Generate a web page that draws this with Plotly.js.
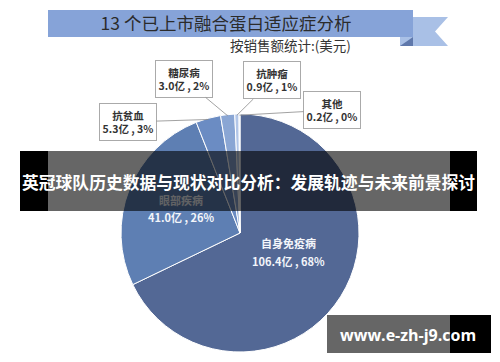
<!DOCTYPE html>
<html>
<head>
<meta charset="utf-8">
<script src="https://cdn.plot.ly/plotly-3.0.1.min.js"></script>
<style>html,body{margin:0;padding:0;background:#fff;}#chart{width:500px;height:362px;}</style>
</head>
<body>
<div id="chart"></div>
<script>
// ---- data ----
const categories = ['自身免疫病', '眼部疾病', '抗贫血', '糖尿病', '抗肿瘤', '其他'];
const salesYi = [106.4, 41.0, 5.3, 3.0, 0.9, 0.2];
const sliceColors = ['#536895', '#5e7fb3', '#6b8cc3', '#8aa6d4', '#b2c6e8', '#cfdcf0'];
const chartTitle = '13 个已上市融合蛋白适应症分析';
const subTitle = '按销售额统计:(美元)';
const bannerText = '英冠球队历史数据与现状对比分析：发展轨迹与未来前景探讨';
const watermarkText = 'www.e-zh-j9.com';

// ---- layout helpers ----
const W = 500, H = 362;
const px = x => x / W;
const py = y => 1 - y / H;
const CX = 240, CY = 233, R = 119;
const FONT = '"Noto Sans CJK SC", "Noto Sans", sans-serif';

const total = salesYi.reduce((a, b) => a + b, 0);
const pct = salesYi.map(v => Math.round(v / total * 100));
const valueText = i => salesYi[i].toFixed(1) + '亿 , ' + pct[i] + '%';

// mid angle point of slice i on the rim (clockwise from 12 o'clock)
function rimPoint(i, rf) {
  let cum = 0;
  for (let k = 0; k < i; k++) cum += salesYi[k];
  const a = (cum + salesYi[i] / 2) / total * 2 * Math.PI;
  return [CX + R * rf * Math.sin(a), CY - R * rf * Math.cos(a)];
}

const trace = {
  type: 'pie',
  labels: categories,
  values: salesYi,
  sort: false,
  direction: 'clockwise',
  rotation: 0,
  textinfo: 'none',
  hoverinfo: 'none',
  marker: { colors: sliceColors, line: { color: '#ffffff', width: 1 } },
  domain: { x: [px(CX - R), px(CX + R)], y: [py(CY + R), py(CY - R)] },
  showlegend: false
};

const annotations = [];
annotations.push({
  xref: 'paper', yref: 'paper', x: px(290.5), y: py(45), xanchor: 'center', yanchor: 'middle',
  text: subTitle, showarrow: false, font: { family: FONT, size: 13.5, color: '#333' }
});

// callout boxes: index -> box centre
const boxes = [
  { i: 3, bx: 183.5, by: 79 },
  { i: 4, bx: 272, by: 80.5 },
  { i: 5, bx: 332, by: 110 },
  { i: 2, bx: 128, by: 122 }
];
boxes.forEach(b => {
  const [x0, y0] = rimPoint(b.i, 0.99);
  annotations.push({
    xref: 'paper', yref: 'paper', x: px(x0), y: py(y0),
    ax: b.bx - x0, ay: b.by - y0, axref: 'pixel', ayref: 'pixel',
    showarrow: true, arrowhead: 0, arrowwidth: 0.8, arrowcolor: '#8a8a8a',
    text: '<b>' + categories[b.i] + '</b><br><b>' + valueText(b.i) + '</b>',
    width: 54, height: 34, borderpad: 1, bordercolor: '#aaaaaa', borderwidth: 1, bgcolor: '#ffffff',
    font: { family: FONT, size: 10.5, color: '#333' }
  });
});

// inside labels
const inside = [
  { i: 0, x: 288, y1: 243, y2: 261 },
  { i: 1, x: 181, y1: 200, y2: 217 }
];
inside.forEach(l => {
  annotations.push({
    xref: 'paper', yref: 'paper', x: px(l.x), y: py(l.y1), xanchor: 'center', yanchor: 'middle',
    text: '<b>' + categories[l.i] + '</b>', showarrow: false,
    font: { family: FONT, size: 11, color: '#f2f5fa' }
  });
  annotations.push({
    xref: 'paper', yref: 'paper', x: px(l.x), y: py(l.y2), xanchor: 'center', yanchor: 'middle',
    text: '<b>' + valueText(l.i) + '</b>', showarrow: false,
    font: { family: FONT, size: 11, color: '#f2f5fa' }
  });
});

// overlay band (darkened middle) drawn above the labels
annotations.push({
  xref: 'paper', yref: 'paper', x: px(249), y: py(181), xanchor: 'center', yanchor: 'middle',
  text: ' ', showarrow: false, width: 402, height: 60, borderpad: 0, borderwidth: 0,
  bgcolor: 'rgba(0,0,0,0.6)', font: { size: 10, color: 'rgba(0,0,0,0)' }
});
annotations.push({
  xref: 'paper', yref: 'paper', x: px(248.5), y: py(182), xanchor: 'center', yanchor: 'middle',
  text: '<b>' + bannerText + '</b>', showarrow: false,
  font: { family: FONT, size: 16.8, color: '#ffffff' }
});
annotations.push({
  xref: 'paper', yref: 'paper', x: px(408), y: py(335), xanchor: 'center', yanchor: 'middle',
  text: '<b>' + watermarkText + '</b>', showarrow: false,
  font: { family: '"Open Sans", "DejaVu Sans", sans-serif', size: 16, color: '#ffffff' }
});

function pathPx(pts) {
  return 'M' + pts.map(p => px(p[0]) + ',' + py(p[1])).join(' L') + ' Z';
}

const shapes = [
  // title ribbon tail
  { type: 'path', xref: 'paper', yref: 'paper', layer: 'below', line: { width: 0 }, fillcolor: '#a9c0e6',
    path: pathPx([[400, 17], [448, 17], [435, 31.5], [448, 46], [400, 46]]) },
  // main ribbon
  { type: 'rect', xref: 'paper', yref: 'paper', layer: 'below', line: { width: 0 }, fillcolor: '#86a3d8',
    x0: px(48), x1: px(413), y0: py(37), y1: py(10) },
  // fold
  { type: 'path', xref: 'paper', yref: 'paper', layer: 'below', line: { width: 0 }, fillcolor: '#5f78ab',
    path: pathPx([[413, 37], [413, 46], [400, 46]]) },
  // black sides of overlay band
  { type: 'rect', xref: 'paper', yref: 'paper', layer: 'above', line: { width: 0 }, fillcolor: '#000',
    x0: px(20), x1: px(48), y0: py(211), y1: py(151) },
  { type: 'rect', xref: 'paper', yref: 'paper', layer: 'above', line: { width: 0 }, fillcolor: '#000',
    x0: px(450), x1: px(477), y0: py(211), y1: py(151) },
  // watermark box
  { type: 'rect', xref: 'paper', yref: 'paper', layer: 'above', line: { width: 0 }, fillcolor: 'rgba(0,0,0,0.6)',
    x0: px(327), x1: px(450), y0: py(353), y1: py(315) },
  { type: 'rect', xref: 'paper', yref: 'paper', layer: 'above', line: { width: 0 }, fillcolor: '#000',
    x0: px(450), x1: px(491), y0: py(353), y1: py(315) }
];

const layout = {
  width: W, height: H,
  margin: { l: 0, r: 0, t: 0, b: 0, pad: 0 },
  paper_bgcolor: '#ffffff', plot_bgcolor: '#ffffff',
  showlegend: false,
  title: {
    text: chartTitle, x: px(226), xanchor: 'center', xref: 'paper',
    y: py(24), yanchor: 'middle', yref: 'paper',
    font: { family: FONT, size: 17.5, color: '#2b2b2b' }
  },
  annotations: annotations,
  shapes: shapes
};

Plotly.newPlot('chart', [trace], layout, { staticPlot: true, displayModeBar: false });
</script>
</body>
</html>
